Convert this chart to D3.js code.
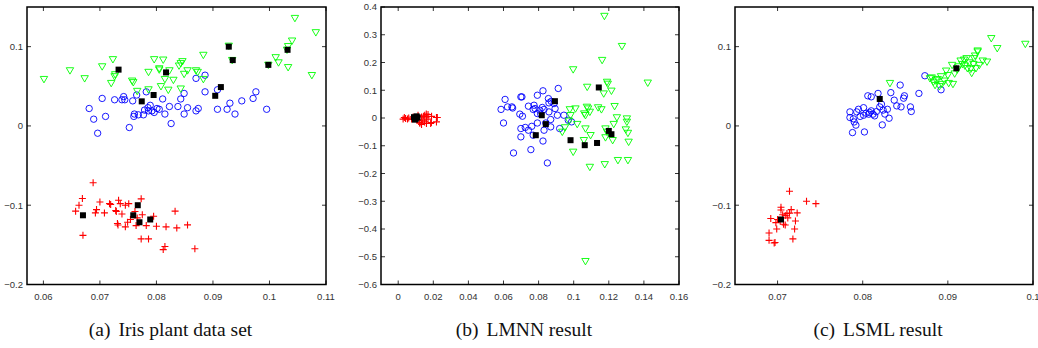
<!DOCTYPE html>
<html>
<head>
<meta charset="utf-8">
<script src="https://cdn.jsdelivr.net/npm/d3@7"></script>
<style>
  body { margin: 0; background: #fff; }
  svg { display: block; }
  .tick-label { font-family: 'Liberation Sans', Arial, Helvetica, sans-serif; font-size: 9.5px; fill: #333; }
  .caption { font-family: 'Liberation Serif', 'DejaVu Serif', 'Times New Roman', Times, serif; font-size: 19.5px; fill: #111; }
</style>
</head>
<body>
<svg id="chart" width="1038" height="348"></svg>
<script>
// (a) Iris plant data set
const irisSetosa = [
  [0.0688,-0.0717],[0.0663,-0.100],[0.0657,-0.1075],[0.0669,-0.0915],[0.0694,-0.1055],[0.0692,-0.1097],
  [0.0700,-0.096],[0.0708,-0.1097],[0.0717,-0.098],[0.0719,-0.099],[0.0728,-0.1067],[0.0729,-0.108],
  [0.0733,-0.0937],[0.0736,-0.098],[0.0731,-0.123],[0.0732,-0.125],[0.0739,-0.111],[0.0745,-0.1273],
  [0.0751,-0.098],[0.0749,-0.1215],[0.0754,-0.118],[0.0773,-0.092],[0.0775,-0.112],[0.0764,-0.1257],
  [0.0782,-0.1257],[0.0773,-0.1425],[0.0786,-0.1425],[0.0795,-0.114],[0.0800,-0.1266],[0.0817,-0.1273],
  [0.0815,-0.152],[0.0812,-0.156],[0.0833,-0.1075],[0.0836,-0.1286],[0.0670,-0.138],[0.0855,-0.1248],
  [0.0868,-0.155],[0.0762,-0.108],[0.0766,-0.116],[0.0745,-0.100]
]
const irisVersicolor = [
  [0.0681,0.022],[0.0689,0.0085],[0.0696,-0.0092],[0.0710,0.012],[0.0704,0.0347],[0.0726,0.033],
  [0.0739,0.033],[0.0742,0.037],[0.0752,-0.002],[0.0758,0.0316],[0.0761,0.015],[0.0765,0.039],
  [0.0782,0.043],[0.0777,0.014],[0.0785,0.023],[0.0789,0.026],[0.0786,0.019],[0.0796,0.017],
  [0.0805,0.021],[0.0811,0.034],[0.0815,0.015],[0.0823,0.0245],[0.0826,0.003],[0.0838,0.0245],
  [0.0843,0.034],[0.0849,0.041],[0.0849,0.015],[0.0855,0.023],[0.0870,0.060],[0.0886,0.064],
  [0.0886,0.043],[0.0870,0.019],[0.0874,0.022],[0.0908,0.021],[0.0908,0.0456],[0.0925,0.021],
  [0.0930,0.0287],[0.0939,0.015],[0.0951,0.0316],[0.0971,0.0347],[0.0976,0.043],[0.0995,0.021],
  [0.0779,0.020],[0.0792,0.019],[0.0801,0.022],[0.0760,0.012],[0.0744,0.033],[0.0768,0.014]
]
const irisVirginica = [
  [0.0601,0.059],[0.0647,0.070],[0.0673,0.060],[0.0704,0.075],[0.0723,0.084],[0.0726,0.0625],
  [0.0720,0.054],[0.0757,0.057],[0.0759,0.055],[0.0766,0.044],[0.0786,0.068],[0.0786,0.046],
  [0.0796,0.084],[0.0812,0.0835],[0.0805,0.071],[0.0815,0.059],[0.0808,0.050],[0.0821,0.0455],
  [0.0830,0.058],[0.0823,0.070],[0.0843,0.079],[0.0846,0.0815],[0.0840,0.076],[0.0849,0.0655],
  [0.0855,0.070],[0.0870,0.070],[0.0873,0.068],[0.0883,0.0895],[0.0883,0.059],[0.0843,0.047],
  [0.0928,0.101],[0.0934,0.083],[0.0998,0.077],[0.1011,0.0865],[0.1016,0.080],[0.1033,0.074],
  [0.1033,0.1005],[0.1040,0.1075],[0.1045,0.136],[0.1082,0.118],[0.1075,0.064],[0.1031,0.096],
  [0.0727,0.065],[0.0805,0.0725]
]
const irisCenters = [
  [0.0733,0.071],[0.0774,0.031],[0.0795,0.039],[0.0817,0.0675],[0.0904,0.038],[0.0914,0.049],
  [0.0928,0.100],[0.0935,0.083],[0.0998,0.077],[0.1032,0.096],
  [0.0670,-0.1127],[0.0767,-0.100],[0.0759,-0.1127],[0.0770,-0.1215],[0.0789,-0.118]
]

// (b) LMNN result
const lmnnSetosa = [
  [0.0028,-0.004],[0.0042,-0.002],[0.0053,-0.004],[0.0076,-0.004],[0.0133,0.004],[0.0151,0.010],
  [0.0161,0.004],[0.0170,0.0126],[0.0218,0.002],[0.0218,-0.014],[0.0189,-0.016],[0.0161,-0.020],
  [0.0123,-0.016],[0.0133,-0.023],[0.0113,0.010],[0.0185,-0.020],[0.0223,0.002],[0.0160,0.014],
  [0.0123,-0.019],[0.0060,0.000],[0.0140,-0.008],[0.0170,-0.004],[0.0145,0.006],[0.0085,0.004],
  [0.0120,-0.008],[0.0190,0.006],[0.0035,0.002],[0.0150,-0.014]
]
const lmnnVersicolor = [
  [0.0586,0.031],[0.0609,0.067],[0.0623,0.040],[0.0652,0.036],[0.0600,-0.018],[0.0657,-0.126],
  [0.0693,0.014],[0.0699,0.076],[0.0699,-0.038],[0.0699,-0.068],[0.0708,0.0065],[0.0648,0.040],
  [0.0705,0.076],[0.0724,-0.034],[0.0742,0.0426],[0.0742,-0.044],[0.0756,-0.114],[0.0761,-0.030],
  [0.0769,0.031],[0.0774,0.046],[0.0769,-0.062],[0.0780,0.034],[0.0793,0.082],[0.0793,0.016],
  [0.0793,-0.018],[0.0807,0.028],[0.0812,0.014],[0.0825,0.098],[0.0821,0.038],[0.0831,0.031],
  [0.0831,-0.044],[0.0825,-0.083],[0.0856,0.070],[0.0859,0.022],[0.0859,0.0545],[0.0869,-0.0054],
  [0.0869,-0.032],[0.0850,-0.162],[0.0841,-0.018],[0.0894,0.034],[0.0907,0.010],[0.0912,0.1065],
  [0.0920,-0.038],[0.0944,0.010],[0.0969,-0.008],[0.0988,-0.014],[0.0888,0.052],[0.0872,0.060]
]
const lmnnVirginica = [
  [0.1175,0.3675],[0.1275,0.259],[0.1162,0.2087],[0.0997,0.175],[0.1077,0.112],[0.1190,0.130],
  [0.1194,0.123],[0.1215,0.098],[0.1171,0.088],[0.1422,0.127],[0.0978,0.031],[0.1010,0.034],
  [0.0982,0.010],[0.1020,-0.022],[0.1067,0.010],[0.1082,0.034],[0.1092,0.022],[0.1060,0.016],
  [0.1075,0.040],[0.1139,0.038],[0.1158,0.031],[0.1233,0.0426],[0.1246,0.002],[0.1228,-0.022],
  [0.1303,-0.002],[0.1303,-0.014],[0.1297,-0.0415],[0.1309,-0.054],[0.1313,-0.086],[0.1309,-0.152],
  [0.1252,-0.152],[0.1177,-0.1668],[0.1092,-0.1765],[0.0997,-0.122],[0.1067,-0.038],[0.1096,-0.062],
  [0.1058,-0.080],[0.1181,-0.038],[0.1181,-0.070],[0.1222,-0.080],[0.0935,-0.050],[0.0950,-0.034],
  [0.0973,-0.010],[0.1067,-0.516],[0.1190,-0.050]
]
const lmnnCenters = [
  [0.0090,0.003],[0.0100,-0.003],[0.0110,0.002],[0.0095,-0.006],[0.0105,0.006],
  [0.0818,0.010],[0.0841,-0.022],[0.0893,0.0606],[0.0784,-0.062],[0.0982,-0.080],
  [0.1063,-0.098],[0.1133,-0.090],[0.1143,0.110],[0.1200,-0.0466],[0.1215,-0.0585]
]

// (c) LSML result
const lsmlSetosa = [
  [0.0714,-0.0823],[0.0734,-0.095],[0.0745,-0.098],[0.0704,-0.1025],[0.0704,-0.106],[0.0716,-0.1055],
  [0.0723,-0.1097],[0.0711,-0.1105],[0.0709,-0.113],[0.0692,-0.1168],[0.0700,-0.118],[0.0698,-0.122],
  [0.0721,-0.120],[0.0709,-0.125],[0.0699,-0.130],[0.0720,-0.130],[0.0690,-0.135],[0.0690,-0.1443],
  [0.0696,-0.1476],[0.0697,-0.147],[0.0718,-0.1425],[0.0706,-0.112],[0.0703,-0.120],[0.0712,-0.116],
  [0.0714,-0.110],[0.0707,-0.124]
]
const lsmlVersicolor = [
  [0.0788,-0.0084],[0.0802,-0.0076],[0.0792,0.001],[0.0790,0.005],[0.0785,0.0106],[0.0785,0.0177],
  [0.0793,0.0177],[0.0795,0.021],[0.0801,0.023],[0.0801,0.0135],[0.0806,0.038],[0.0807,0.0148],
  [0.0810,0.0367],[0.0808,0.017],[0.0812,0.0148],[0.0810,0.019],[0.0814,0.0127],[0.0820,0.024],
  [0.0818,0.041],[0.0822,0.0275],[0.0824,0.020],[0.0829,0.021],[0.0831,0.0097],[0.0823,0.0013],
  [0.0833,0.042],[0.0844,0.0515],[0.0837,0.0325],[0.0840,0.0253],[0.0845,0.024],[0.0849,0.038],
  [0.0848,0.035],[0.0856,0.024],[0.0857,0.0182],[0.0866,0.041],[0.0873,0.0633],[0.0892,0.0456],
  [0.0797,0.012],[0.0804,0.016],[0.0816,0.018],[0.0826,0.015],[0.0789,0.009]
]
const lsmlVirginica = [
  [0.0832,0.054],[0.0951,0.1106],[0.0958,0.098],[0.0991,0.1034],[0.0881,0.061],[0.0883,0.0557],
  [0.0885,0.0515],[0.0888,0.059],[0.0892,0.0625],[0.0893,0.0528],[0.0898,0.0696],[0.0900,0.064],
  [0.0901,0.054],[0.0906,0.0528],[0.0905,0.0768],[0.0911,0.071],[0.0915,0.0823],[0.0919,0.0835],
  [0.0920,0.076],[0.0922,0.0853],[0.0923,0.0727],[0.0925,0.080],[0.0928,0.0667],[0.0930,0.078],
  [0.0931,0.0853],[0.0932,0.0886],[0.0933,0.0727],[0.0935,0.0937],[0.0935,0.095],[0.0937,0.0768],
  [0.0941,0.0823],[0.0946,0.081],[0.0879,0.060],[0.0917,0.078],[0.0913,0.075],[0.0886,0.058],
  [0.0896,0.057],[0.0908,0.066],[0.0927,0.072],[0.0890,0.050]
]
const lsmlCenters = [[0.0704,-0.118],[0.0820,0.034],[0.0910,0.0727]]

const irisXTicks = [0.06, 0.07, 0.08, 0.09, 0.1, 0.11]
const irisYTicks = [-0.2, -0.1, 0, 0.1]
const lmnnXTicks = [0, 0.02, 0.04, 0.06, 0.08, 0.1, 0.12, 0.14, 0.16]
const lmnnYTicks = [-0.6, -0.5, -0.4, -0.3, -0.2, -0.1, 0, 0.1, 0.2, 0.3, 0.4]
const lsmlXTicks = [0.07, 0.08, 0.09, 0.1]
const lsmlYTicks = [-0.2, -0.1, 0, 0.1]

const captions = ['(a)', '(b)', '(c)']
const captionTexts = ['Iris plant data set', 'LMNN result', 'LSML result']

const svg = d3.select('#chart')

const fmt = v => {
  if (Math.abs(v) < 1e-9) return '0'
  const s = String(+v.toFixed(2))
  return s.replace('-', '\u2212')
}

const panels = [
  { left: 27, right: 326, xDom: [0.0571, 0.11], yDom: [-0.2, 0.15], xTicks: irisXTicks, yTicks: irisYTicks,
    setosa: irisSetosa, versicolor: irisVersicolor, virginica: irisVirginica, centers: irisCenters },
  { left: 381, right: 679, xDom: [-0.0098, 0.16], yDom: [-0.6, 0.4], xTicks: lmnnXTicks, yTicks: lmnnYTicks,
    setosa: lmnnSetosa, versicolor: lmnnVersicolor, virginica: lmnnVirginica, centers: lmnnCenters },
  { left: 735, right: 1033, xDom: [0.065, 0.1], yDom: [-0.2, 0.15], xTicks: lsmlXTicks, yTicks: lsmlYTicks,
    setosa: lsmlSetosa, versicolor: lsmlVersicolor, virginica: lsmlVirginica, centers: lsmlCenters }
]

const plotTop = 7, plotBottom = 284.5
const tickLen = 4

panels.forEach((p, i) => {
  const x = d3.scaleLinear().domain(p.xDom).range([p.left, p.right])
  const y = d3.scaleLinear().domain(p.yDom).range([plotBottom, plotTop])
  const g = svg.append('g')

  // ticks on all four sides, pointing inward
  const tk = g.append('g').attr('stroke', '#000').attr('stroke-width', 0.8)
  p.xTicks.forEach(t => {
    tk.append('line').attr('x1', x(t)).attr('x2', x(t)).attr('y1', plotBottom).attr('y2', plotBottom - tickLen)
    tk.append('line').attr('x1', x(t)).attr('x2', x(t)).attr('y1', plotTop).attr('y2', plotTop + tickLen)
  })
  p.yTicks.forEach(t => {
    tk.append('line').attr('x1', p.left).attr('x2', p.left + tickLen).attr('y1', y(t)).attr('y2', y(t))
    tk.append('line').attr('x1', p.right).attr('x2', p.right - tickLen).attr('y1', y(t)).attr('y2', y(t))
  })

  const lab = g.append('g')
  p.xTicks.forEach(t => {
    lab.append('text').attr('class', 'tick-label').attr('x', x(t)).attr('y', plotBottom + 15)
      .attr('text-anchor', 'middle').text(fmt(t))
  })
  p.yTicks.forEach(t => {
    lab.append('text').attr('class', 'tick-label').attr('x', p.left - 4).attr('y', y(t)).attr('dy', '0.35em')
      .attr('text-anchor', 'end').text(fmt(t))
  })

  // markers
  const m = g.append('g')
  p.setosa.forEach(d => {
    const cx = x(d[0]), cy = y(d[1])
    m.append('path').attr('d', `M${cx - 3.5},${cy}H${cx + 3.5}M${cx},${cy - 3.5}V${cy + 3.5}`)
      .attr('stroke', '#ff0000').attr('stroke-width', 1.1).attr('fill', 'none')
  })
  p.versicolor.forEach(d => {
    m.append('circle').attr('cx', x(d[0])).attr('cy', y(d[1])).attr('r', 3.2)
      .attr('fill', 'none').attr('stroke', '#0000ff').attr('stroke-width', 0.9)
  })
  p.virginica.forEach(d => {
    const cx = x(d[0]), cy = y(d[1])
    m.append('path').attr('d', `M${cx - 3.7},${cy - 2.7}L${cx + 3.7},${cy - 2.7}L${cx},${cy + 3.7}Z`)
      .attr('fill', 'none').attr('stroke', '#00ff00').attr('stroke-width', 0.9)
  })
  p.centers.forEach(d => {
    m.append('rect').attr('x', x(d[0]) - 3).attr('y', y(d[1]) - 3).attr('width', 6).attr('height', 6)
      .attr('fill', '#000')
  })

  // box
  g.append('rect').attr('x', p.left).attr('y', plotTop).attr('width', p.right - p.left)
    .attr('height', plotBottom - plotTop)
    .attr('fill', 'none').attr('stroke', '#000').attr('stroke-width', 1.5)

  // caption
  const cap = svg.append('text').attr('class', 'caption').attr('x', (p.left + p.right) / 2 - 6).attr('y', 336)
    .attr('text-anchor', 'middle')
  cap.append('tspan').text(captions[i])
  cap.append('tspan').attr('dx', 8).text(captionTexts[i])
})
</script>
</body>
</html>
